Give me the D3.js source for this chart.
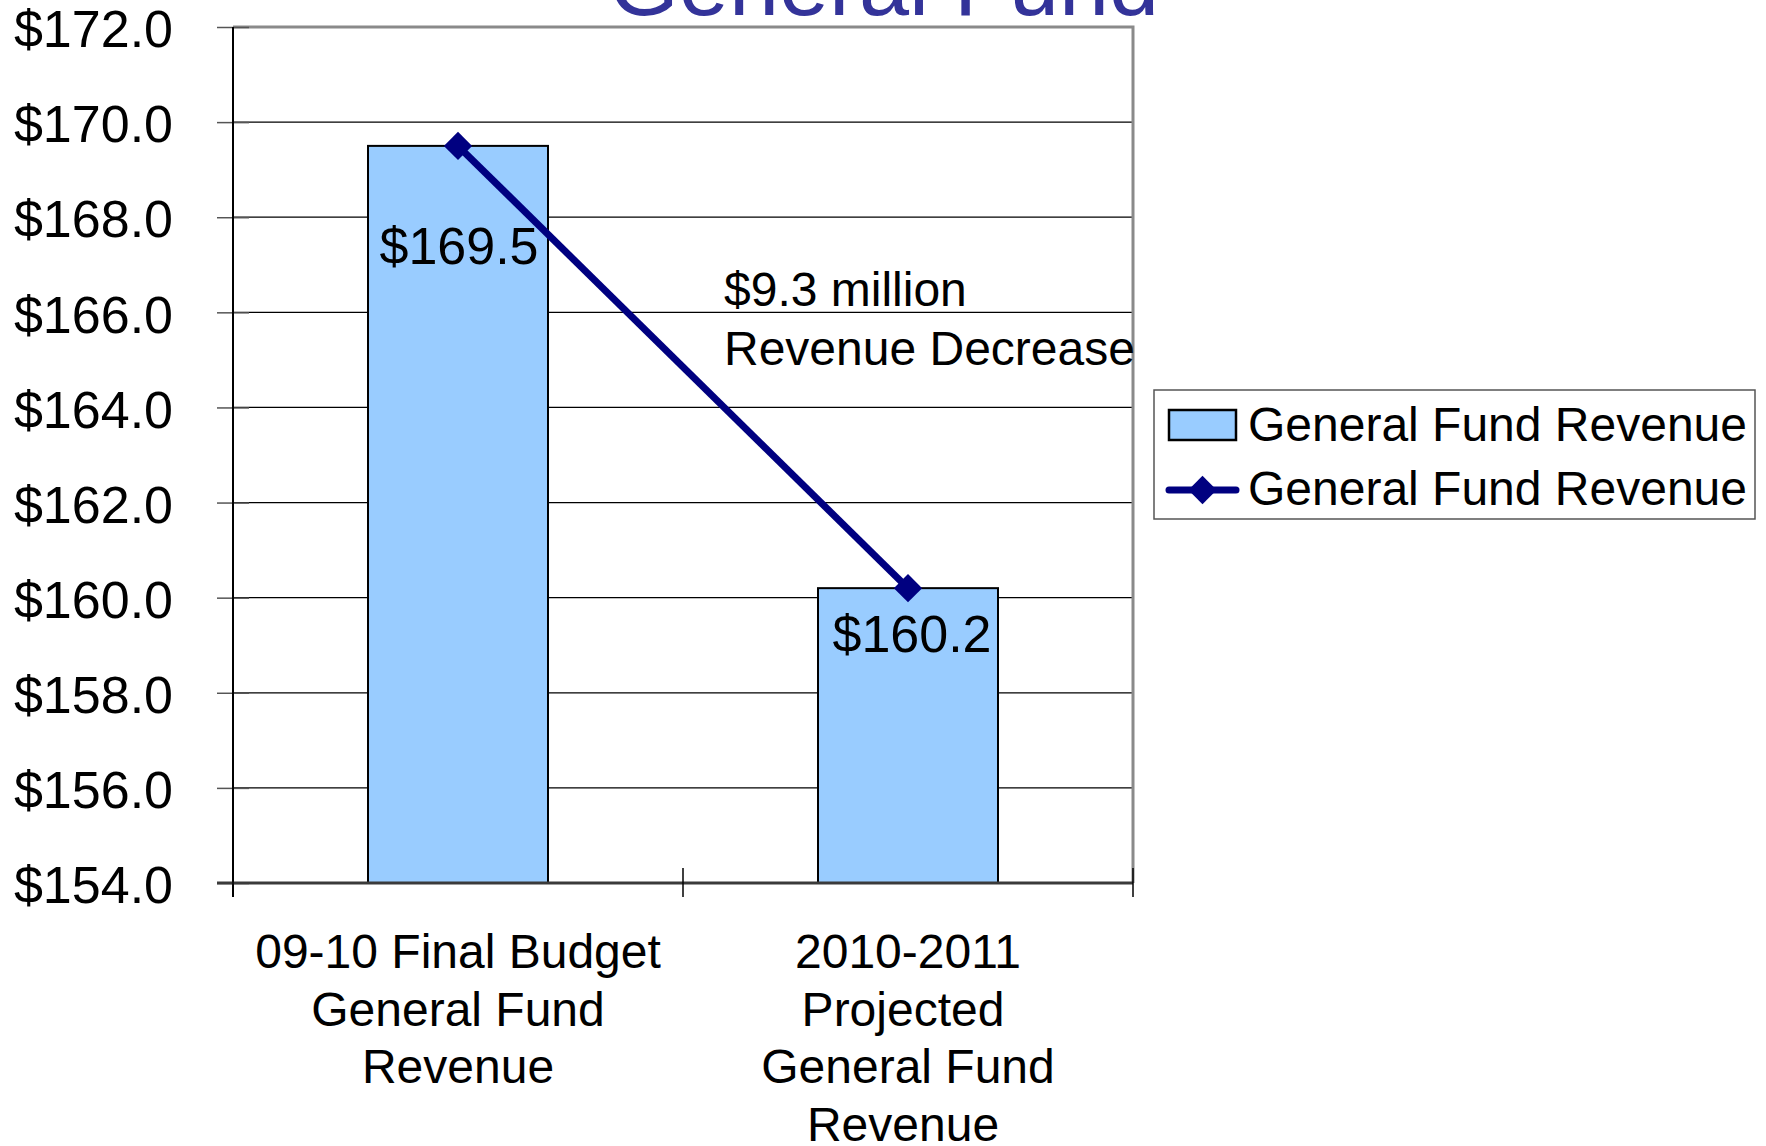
<!DOCTYPE html>
<html>
<head>
<meta charset="utf-8">
<script src="https://cdn.jsdelivr.net/npm/d3@7"></script>
<style>
  html, body { margin: 0; padding: 0; background: #fff; }
  svg { display: block; font-family: "Liberation Sans", Arial, sans-serif; }
</style>
</head>
<body>
<svg id="chart" width="1766" height="1146"></svg>
<script>
// ---- data ----
const categories = [
  ["09-10 Final Budget", "General Fund", "Revenue"],
  ["2010-2011", "Projected", "General Fund", "Revenue"]
];
const categoryKeys = ["cat1", "cat2"];
const barValues = [169.5, 160.2];
const lineValues = [169.5, 160.2];
const valueLabels = ["$169.5", "$160.2"];
const yTicks = [154, 156, 158, 160, 162, 164, 166, 168, 170, 172];
const seriesNames = ["General Fund Revenue", "General Fund Revenue"];
const titleText = "General Fund";
const annotationLines = ["$9.3 million", "Revenue Decrease"];

(function () {
// ---- layout ----
const svg = d3.select("#chart");
const pL = 233, pR = 1133, pT = 27, pB = 883;

const y = d3.scaleLinear().domain([154, 172]).range([pB, pT]);
const x = d3.scaleBand().domain(categoryKeys).range([pL, pR])
  .paddingInner(0.6).paddingOuter(0.3);

// title (clipped at top)
svg.append("text")
  .attr("x", 884).attr("y", 15)
  .attr("text-anchor", "middle")
  .attr("font-size", 90)
  .attr("fill", "#333399")
  .text(titleText);

// gridlines
svg.append("g").selectAll("line")
  .data(yTicks.filter(d => d !== 154 && d !== 172))
  .join("line")
  .attr("x1", pL).attr("x2", pR)
  .attr("y1", d => y(d)).attr("y2", d => y(d))
  .attr("stroke", "#000").attr("stroke-width", 1.3);

// top & right border (gray)
svg.append("path")
  .attr("d", `M${pL},${y(172)}H${pR}V${pB}`)
  .attr("fill", "none").attr("stroke", "#8a8a8a").attr("stroke-width", 3);

// bars
svg.append("g").selectAll("rect")
  .data(barValues)
  .join("rect")
  .attr("x", (d, i) => x(categoryKeys[i]))
  .attr("width", x.bandwidth())
  .attr("y", d => y(d))
  .attr("height", d => y(154) - y(d))
  .attr("fill", "#99CCFF")
  .attr("stroke", "#000").attr("stroke-width", 2);

// y axis
const yAxis = d3.axisLeft(y).tickValues(yTicks)
  .tickFormat(d => "$" + d.toFixed(1))
  .tickSize(16).tickPadding(44);
const gy = svg.append("g").attr("transform", `translate(${pL},0)`).call(yAxis);
gy.select(".domain").remove();
gy.selectAll(".tick line").attr("x1", -16).attr("x2", 16)
  .attr("stroke", "#555").attr("stroke-width", 1.5);
gy.selectAll(".tick text")
  .attr("font-size", 52).attr("font-family", "Liberation Sans, Arial, sans-serif")
  .attr("fill", "#000").attr("dy", "0.38em");

// left axis line
svg.append("line").attr("x1", pL).attr("x2", pL)
  .attr("y1", pT).attr("y2", pB + 14)
  .attr("stroke", "#000").attr("stroke-width", 2);

// bottom axis line
svg.append("line").attr("x1", pL - 16).attr("x2", pR)
  .attr("y1", pB).attr("y2", pB)
  .attr("stroke", "#3a3a3a").attr("stroke-width", 3);

// x axis ticks at band boundaries
const edges = [pL, pL + x.step(), pR];
svg.append("g").selectAll("line")
  .data(edges)
  .join("line")
  .attr("x1", d => d).attr("x2", d => d)
  .attr("y1", pB - 15).attr("y2", pB + 14)
  .attr("stroke", "#000").attr("stroke-width", 1.5);

// x axis labels (multi-line)
const lineShift = [[0, 0, 0], [0, -5, 0, -5]];
const xAxis = d3.axisBottom(x).tickSize(0).tickFormat("");
const gx = svg.append("g").attr("transform", `translate(0,${pB})`).call(xAxis);
gx.select(".domain").remove();
gx.selectAll(".tick").each(function(d, i) {
  const t = d3.select(this).append("text")
    .attr("text-anchor", "middle")
    .attr("font-size", 48)
    .attr("fill", "#000")
    .attr("font-family", "Liberation Sans, Arial, sans-serif");
  categories[i].forEach((ln, k) => {
    t.append("tspan").attr("x", lineShift[i][k]).attr("y", 85 + k * 57.5).text(ln);
  });
});

// line series
const cx = (d, i) => x(categoryKeys[i]) + x.bandwidth() / 2;
const line = d3.line().x((d, i) => cx(d, i)).y(d => y(d));
svg.append("path")
  .datum(lineValues)
  .attr("d", line)
  .attr("fill", "none")
  .attr("stroke", "#000080").attr("stroke-width", 7);
const diamond = d3.symbol().type(d3.symbolSquare).size(400);
svg.append("g").selectAll("path")
  .data(lineValues)
  .join("path")
  .attr("d", diamond)
  .attr("transform", (d, i) => `translate(${cx(d, i)},${y(d)}) rotate(45)`)
  .attr("fill", "#000080");

// value labels
const labelOffsets = [118, 64];
svg.append("g").selectAll("text")
  .data(barValues)
  .join("text")
  .attr("x", (d, i) => cx(d, i) + (i === 0 ? 1 : 4))
  .attr("y", (d, i) => y(d) + labelOffsets[i])
  .attr("text-anchor", "middle")
  .attr("font-size", 52)
  .attr("fill", "#000")
  .text((d, i) => valueLabels[i]);

// annotation
const ann = svg.append("text").attr("font-size", 48).attr("fill", "#000");
annotationLines.forEach((t, k) => {
  ann.append("tspan").attr("x", 724).attr("y", 306 + k * 59).text(t);
});

// legend
const lg = svg.append("g").attr("transform", "translate(1154,390)");
lg.append("rect").attr("width", 601).attr("height", 129)
  .attr("fill", "#fff").attr("stroke", "#555").attr("stroke-width", 1.5);
lg.append("rect").attr("x", 15).attr("y", 20).attr("width", 67).attr("height", 30)
  .attr("fill", "#99CCFF").attr("stroke", "#000").attr("stroke-width", 2.5);
lg.append("line").attr("x1", 15).attr("x2", 82).attr("y1", 100).attr("y2", 100)
  .attr("stroke", "#000080").attr("stroke-width", 7).attr("stroke-linecap", "round");
lg.append("path").attr("d", diamond)
  .attr("transform", "translate(48.5,100) rotate(45)")
  .attr("fill", "#000080");
lg.selectAll("text.lbl").data(seriesNames).join("text")
  .attr("class", "lbl")
  .attr("x", 94).attr("y", (d, i) => 51 + i * 64)
  .attr("font-size", 48).attr("fill", "#000")
  .text(d => d);
})();
</script>
</body>
</html>
